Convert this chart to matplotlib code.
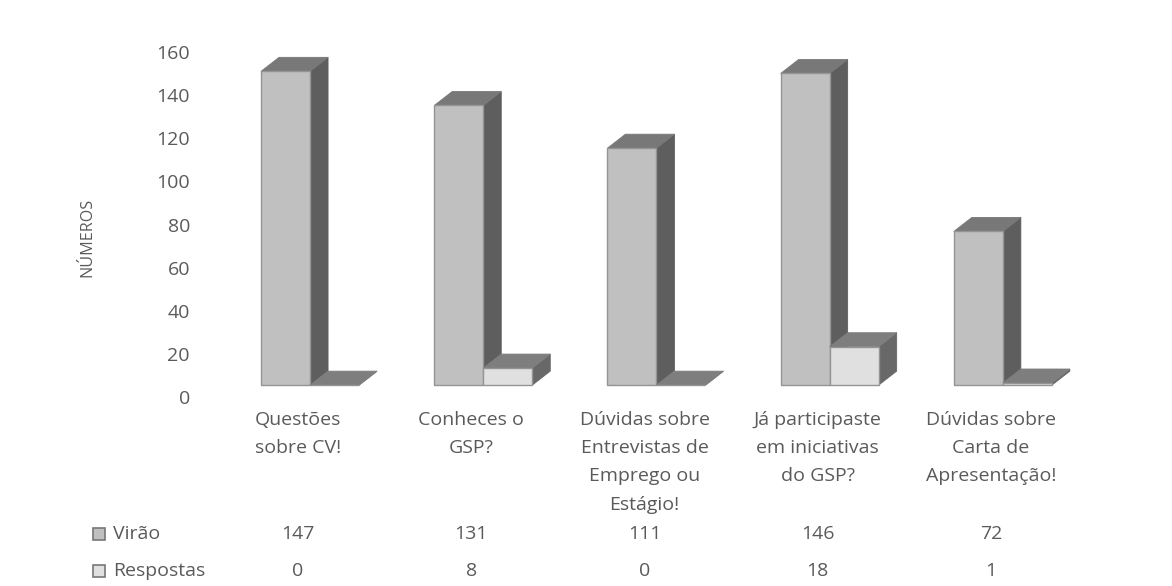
import matplotlib
matplotlib.use("Agg")
import matplotlib.pyplot as plt
from matplotlib.patches import Polygon, Rectangle
from matplotlib.transforms import blended_transform_factory

categories = ["Questões\nsobre CV!", "Conheces o\nGSP?",
              "Dúvidas sobre\nEntrevistas de\nEmprego ou\nEstágio!",
              "Já participaste\nem iniciativas\ndo GSP?",
              "Dúvidas sobre\nCarta de\nApresentação!"]
series_names = ["Virão", "Respostas"]
virao = [147, 131, 111, 146, 72]
respostas = [0, 8, 0, 18, 1]
y_ticks = [0, 20, 40, 60, 80, 100, 120, 140, 160]

W, H = 1172, 586
TXT = "#5a5a5a"
FRONT = ["#c0c0c0", "#e0e0e0"]
SIDE = ["#5e5e5e", "#686868"]
TOP = ["#787878", "#7e7e7e"]
EDGE = "#949494"
plt.rcParams["font.family"] = ["Open Sans", "DejaVu Sans"]
FS = 14

fig = plt.figure(figsize=(W / 100, H / 100), dpi=100, facecolor="white")
ax = fig.add_axes([211.5 / W, (H - 397) / H, 866 / W, 345 / H])
ax.set_xlim(-0.5, 4.5)
ax.set_ylim(0, 160)
ax.patch.set_visible(False)
for s in ax.spines.values():
    s.set_visible(False)
ax.set_yticks(y_ticks)
ax.set_xticks(range(len(categories)))
ax.set_xticklabels(categories, linespacing=1.73)
ax.tick_params(axis="y", length=0, pad=15.5, labelsize=FS, labelcolor=TXT)
ax.tick_params(axis="x", length=0, pad=10, labelsize=FS, labelcolor=TXT)

FLOOR, SHRINK = 5.5, 0.99
BW, GAP = 0.283, 0.069
DX, DY = 18 / 173.2, 14 / 2.156


def box(x, v, k):
    b = FLOOR
    t = FLOOR + v * SHRINK
    r = x + BW
    ax.add_patch(Polygon([(r, b), (r + DX, b + DY), (r + DX, t + DY), (r, t)],
                         fc=SIDE[k], ec=SIDE[k], lw=0.6, zorder=3 + k))
    ax.add_patch(Polygon([(x, t), (x + DX, t + DY), (r + DX, t + DY), (r, t)],
                         fc=TOP[k], ec=TOP[k], lw=0.6, zorder=3 + k))
    ax.bar(x, t - b, BW, bottom=b, align="edge", color=FRONT[k], edgecolor=EDGE,
           linewidth=1.0, zorder=3.5 + k)


for i, (a, b) in enumerate(zip(virao, respostas)):
    box(i + GAP - BW, a, 0)
    box(i + GAP, b, 1)

fig.text(87 / W, 1 - 237 / H, "NÚMEROS", rotation=90, ha="center", va="center",
         fontsize=11.6, color=TXT)

tr = blended_transform_factory(ax.transData, fig.transFigure)
for row, (name, vals, py) in enumerate(zip(series_names, [virao, respostas], [534, 571])):
    fig.add_artist(Rectangle((93 / W, 1 - (py + 6) / H), 12 / W, 12 / H, transform=fig.transFigure,
                             fc=FRONT[row], ec="#777777", lw=1.2))
    fig.text(113 / W, 1 - py / H, name, ha="left", va="center", fontsize=FS, color=TXT)
    for i, v in enumerate(vals):
        ax.text(i, 1 - py / H, str(v), transform=tr, ha="center", va="center",
                fontsize=FS, color=TXT)

fig.savefig("out.png", dpi=100)
